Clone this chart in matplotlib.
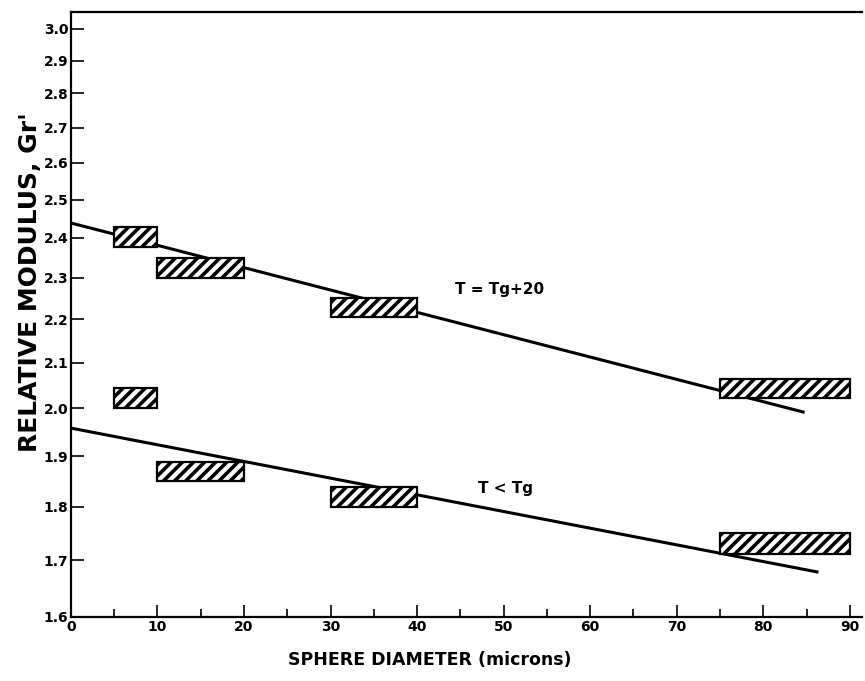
import matplotlib
matplotlib.use("Agg")
import matplotlib.pyplot as plt
from matplotlib.ticker import FixedLocator, MultipleLocator, NullLocator

# hatched boxes: x start, width, low / high modulus
box_x = [5, 10, 30, 75]
box_w = [5, 10, 10, 15]
upper_lo = [2.376, 2.299, 2.205, 2.022]
upper_hi = [2.427, 2.348, 2.250, 2.064]
lower_lo = [2.001, 1.850, 1.800, 1.712]
lower_hi = [2.044, 1.888, 1.839, 1.750]

# fitted lines (end points)
upper_line_x = [0, 84.6]
upper_line_y = [2.438, 1.992]
lower_line_x = [0, 86.2]
lower_line_y = [1.958, 1.679]

y_ticks = [1.6, 1.7, 1.8, 1.9, 2.0, 2.1, 2.2, 2.3, 2.4, 2.5, 2.6, 2.7, 2.8, 2.9, 3.0]
x_ticks = [0, 10, 20, 30, 40, 50, 60, 70, 80, 90]

plt.rcParams["hatch.linewidth"] = 2.6
plt.rcParams["font.family"] = "DejaVu Sans"

fig = plt.figure(figsize=(8.65, 6.81), dpi=100)
ax = fig.add_axes([0.082, 0.094, 0.9145, 0.888])
ax.set_yscale("log")

for lo, hi in [(upper_lo, upper_hi), (lower_lo, lower_hi)]:
    heights = [h - l for l, h in zip(lo, hi)]
    ax.bar(box_x, heights, width=box_w, bottom=lo, align="edge",
           facecolor="white", edgecolor="black", linewidth=1.6,
           hatch="///", zorder=3)

ax.plot(upper_line_x, upper_line_y, color="black", linewidth=2.2, zorder=2)
ax.plot(lower_line_x, lower_line_y, color="black", linewidth=2.2, zorder=2)

ax.text(44.4, 2.271, "T = Tg+20", fontsize=11, fontweight="bold", va="center")
ax.text(47.0, 1.835, "T < Tg", fontsize=11, fontweight="bold", va="center")

ax.set_xlim(0, 91.4)
ax.set_ylim(1.6, 3.054)

ax.yaxis.set_major_locator(FixedLocator(y_ticks))
ax.yaxis.set_minor_locator(NullLocator())
ax.set_yticklabels([f"{t:.1f}" for t in y_ticks])
ax.xaxis.set_major_locator(FixedLocator(x_ticks))
ax.xaxis.set_minor_locator(MultipleLocator(5))

ax.tick_params(axis="both", which="major", direction="in", length=9, width=1.2,
               labelsize=10, pad=2)
ax.tick_params(axis="x", which="minor", direction="in", length=6, width=1.2)
for lbl in ax.get_xticklabels() + ax.get_yticklabels():
    lbl.set_fontweight("bold")

ax.spines["right"].set_visible(False)
for s in ["left", "bottom", "top"]:
    ax.spines[s].set_linewidth(1.6)

fig.text(0.035, 0.585, "RELATIVE MODULUS, Gr'", rotation=90, fontsize=18,
         fontweight="bold", ha="center", va="center")
fig.text(0.497, 0.031, "SPHERE DIAMETER (microns)", fontsize=12.5,
         fontweight="bold", ha="center", va="center")

fig.savefig("out.png", dpi=100)
